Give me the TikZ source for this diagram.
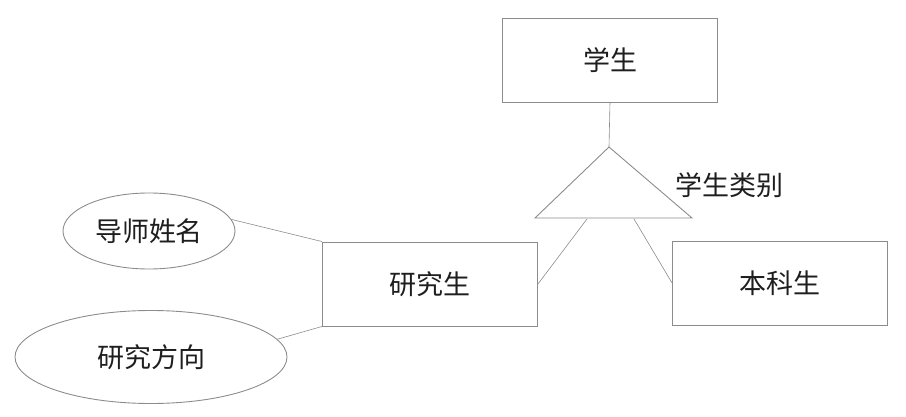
\documentclass[tikz,border=0pt]{standalone}
\usepackage{fontspec}
\usepackage{xcolor}
\usepackage{tikz}
\usetikzlibrary{shapes.geometric}
\newfontfamily\cjk{Noto Sans CJK SC}
\definecolor{lineGray}{RGB}{140,140,140}
\definecolor{textGray}{RGB}{30,30,30}

\begin{document}
\begin{tikzpicture}[
    x=1pt, y=-1pt,
    every node/.style={font=\cjk\fontsize{27}{30}\selectfont, text=textGray},
    entity/.style={rectangle, draw=lineGray, line width=0.9pt, minimum width=215pt,
        minimum height=84pt, inner sep=0pt},
    attr/.style={ellipse, draw=lineGray, line width=0.9pt, inner sep=0pt},
    link/.style={draw=lineGray, line width=0.6pt},
    ]
    \useasboundingbox (0,0) rectangle (906,417);
    % Entities
    \node[entity] (stu)  at (610,60)  {学生};
    \node[entity] (grad) at (430,284) {研究生};
    \node[entity] (ug)   at (780,283) {本科生};
    % Attributes
    \node[attr, minimum width=172pt, minimum height=76pt] (tutor) at (149,231) {导师姓名};
    \node[attr, minimum width=272pt, minimum height=93pt] (dir)   at (151,357) {研究方向};
    % Category triangle
    \coordinate (apex) at (609,147);
    \coordinate (bl)   at (535,218);
    \coordinate (br)   at (692,218);
    \coordinate (legL) at (587,219);
    \coordinate (legR) at (634,219);
    \draw[link, line width=0.9pt] (apex) -- (br) -- (bl) -- cycle;
    \node[anchor=west] (cat) at (672,185) {学生类别};
    % Links
    \draw[link] (stu.south) -- (apex);
    \draw[link] (legL) -- (grad.east);
    \draw[link] (legR) -- (ug.west);
    \draw[link] (tutor.8) -- (grad.north west);
    \draw[link] (dir.8) -- (grad.south west);
\end{tikzpicture}
\end{document}
